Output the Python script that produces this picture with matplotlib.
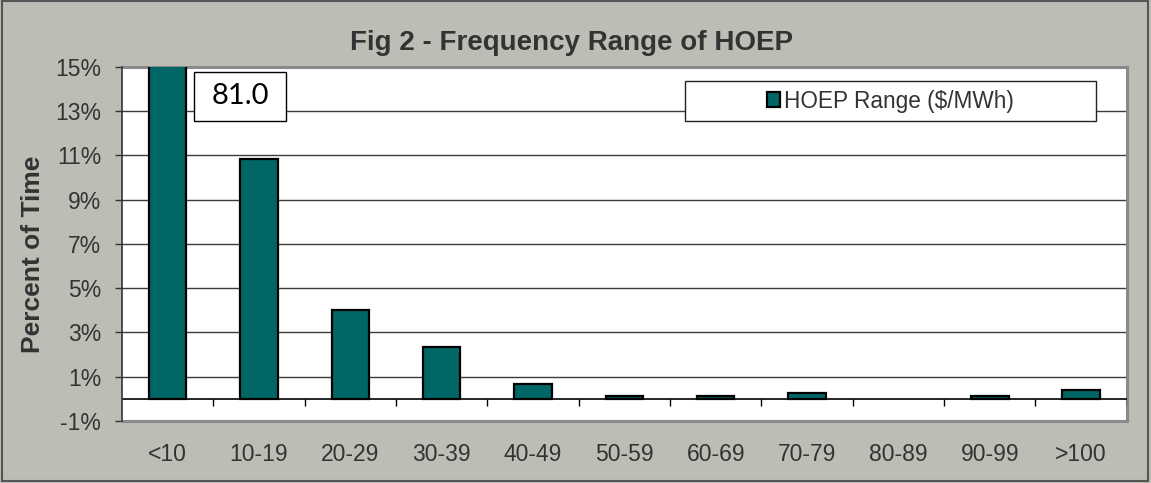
import numpy as np
import matplotlib
matplotlib.use('Agg')
import matplotlib.pyplot as plt
from matplotlib.patches import Rectangle

# data
categories = ['<10', '10-19', '20-29', '30-39', '40-49', '50-59', '60-69', '70-79', '80-89', '90-99', '>100']
percent_time = [81.0, 10.84, 4.03, 2.34, 0.68, 0.14, 0.12, 0.27, 0.0, 0.12, 0.42]
y_ticks = [-1, 1, 3, 5, 7, 9, 11, 13, 15]
series_name = 'HOEP Range ($/MWh)'
title = 'Fig 2 - Frequency Range of HOEP'

bg = '#bdbdb5'
txt = '#333333'
bar_color = '#006666'

plt.rcParams['font.family'] = ['Liberation Sans', 'DejaVu Sans']

fig = plt.figure(figsize=(11.51, 4.83), dpi=100, facecolor=bg)
ax = fig.add_axes([0.106, 0.1284, 0.873, 0.7329])
ax.set_facecolor('white')

x = np.arange(len(categories))
edges = ['black' if v > 0 else 'none' for v in percent_time]
bars = ax.bar(x, percent_time, width=0.41, color=bar_color, edgecolor=edges, linewidth=1.6, zorder=3)

ax.set_xlim(-0.5, len(categories) - 0.5)
ax.set_ylim(-1, 15)

# gridlines and zero line
for v in y_ticks[1:-1]:
    ax.axhline(v, color='#3c3c3c', linewidth=1.0, zorder=1)
ax.axhline(0, color='black', linewidth=1.2, zorder=4)
ax.vlines(x + 0.5, -0.32, 0, color='black', linewidth=1.0, zorder=4)

# y axis
ax.set_yticks(y_ticks)
ax.set_yticklabels([f'{v}%' for v in y_ticks])
ax.tick_params(axis='y', direction='out', length=5, width=1, color='#333333',
               pad=10, labelsize=16.5, labelcolor=txt)

# x axis labels below plot area
ax.set_xticks(x)
ax.set_xticklabels(categories)
ax.tick_params(axis='x', length=0, pad=16, labelsize=16.5, labelcolor=txt)

for side in ['top', 'right', 'bottom']:
    ax.spines[side].set_color('#8a8a8a')
    ax.spines[side].set_linewidth(2.2)
ax.spines['left'].set_color('#333333')
ax.spines['left'].set_linewidth(1.2)
ax.spines['left'].set_zorder(5)

# data label for the clipped bar
ax.add_patch(Rectangle((0.072, 0.8475), 0.0915, 0.1385, transform=ax.transAxes,
                       facecolor='white', edgecolor='black', linewidth=1.0, zorder=6))
ax.text(0.072 + 0.0915 / 2, 0.8475 + 0.1385 / 2, f'{percent_time[0]:.1f}', transform=ax.transAxes,
        ha='center', va='center', fontsize=21, family=['Lato', 'DejaVu Sans'], color='black', zorder=7)

# legend box
ax.add_patch(Rectangle((0.560, 0.847), 0.409, 0.113, transform=ax.transAxes,
                       facecolor='white', edgecolor='#222222', linewidth=1.0, zorder=6))
leg = ax.legend([bars[0]], [series_name], loc='center', bbox_to_anchor=(0.7645, 0.9035),
                frameon=False, fontsize=16.3, handlelength=0.6, handleheight=0.6,
                handletextpad=0.15, borderpad=0.2, labelcolor=txt)
leg.set_zorder(8)

fig.text(0.497, 0.910, title, ha='center', va='center', fontsize=20, fontweight='bold', color=txt)
fig.text(0.029, 0.474, 'Percent of Time', ha='center', va='center', rotation=90,
         fontsize=19, fontweight='bold', color=txt)

# outer border of the chart
fig.patches.append(Rectangle((0.002, 0.004), 0.995, 0.993, transform=fig.transFigure,
                             fill=False, edgecolor='#555555', linewidth=1.5))

fig.savefig('out.png', dpi=100, facecolor=bg)
